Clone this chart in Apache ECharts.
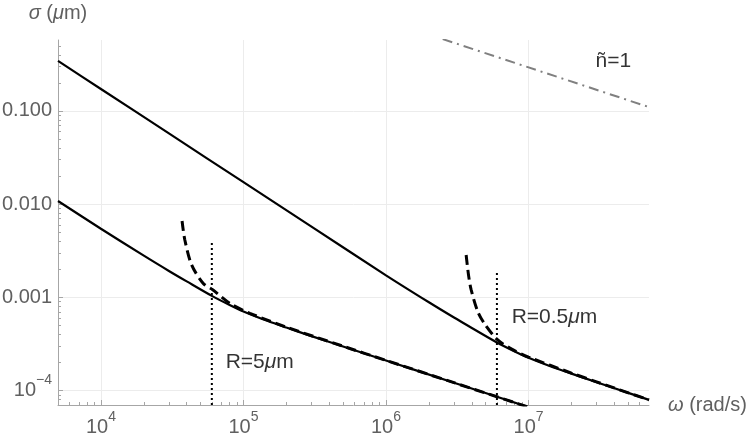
<!DOCTYPE html>
<html><head><meta charset="utf-8">
<script src="https://cdn.jsdelivr.net/npm/echarts@6/dist/echarts.min.js"></script>
<style>html,body{margin:0;padding:0;background:#fff}#c{width:750px;height:444px}</style>
</head><body><div id="c"></div>
<script>
// ---- axis ticks ----
const xMajorTicks = [1e4, 1e5, 1e6, 1e7];
const xMajorLabels = ['10^4', '10^5', '10^6', '10^7'];
const xMinorTicks = [6e3, 7e3, 8e3, 9e3, 2e4, 3e4, 4e4, 5e4, 6e4, 7e4, 8e4, 9e4,
  2e5, 3e5, 4e5, 5e5, 6e5, 7e5, 8e5, 9e5, 2e6, 3e6, 4e6, 5e6, 6e6, 7e6, 8e6, 9e6,
  2e7, 3e7, 4e7, 5e7, 6e7];
const yMajorTicks = [1e-4, 1e-3, 1e-2, 1e-1];
const yMajorLabels = ['10^−4', '0.001', '0.010', '0.100'];
const yMinorTicks = [8e-5, 9e-5, 2e-4, 3e-4, 4e-4, 5e-4, 6e-4, 7e-4, 8e-4, 9e-4,
  2e-3, 3e-3, 4e-3, 5e-3, 6e-3, 7e-3, 8e-3, 9e-3, 2e-2, 3e-2, 4e-2, 5e-2, 6e-2, 7e-2, 8e-2, 9e-2,
  0.2, 0.3, 0.4, 0.5];
const xRange = [5000, 7e7];
const yRange = [7e-5, 0.577];

// ---- series (omega [rad/s], sigma [um]) ----
const solidR05 = [[5000, 0.344], [1e4, 0.172], [3e4, 0.0574], [1e5, 0.0172], [3e5, 5.74e-3],
  [1e6, 1.723e-3], [2e6, 8.85e-4], [3e6, 6.07e-4], [4e6, 4.69e-4], [6e6, 3.28e-4], [8e6, 2.63e-4],
  [1e7, 2.25e-4], [1.5e7, 1.77e-4], [2e7, 1.52e-4], [3e7, 1.23e-4], [5e7, 9.45e-5], [7e7, 7.94e-5]];
const solidR5 = [[5000, 0.0108], [1e4, 5.45e-3], [2e4, 2.8e-3], [3e4, 1.92e-3], [4e4, 1.483e-3],
  [6e4, 1.038e-3], [8e4, 8.29e-4], [1e5, 7.06e-4], [1.5e5, 5.53e-4], [2e5, 4.74e-4], [3e5, 3.84e-4],
  [5e5, 2.97e-4], [1e6, 2.1e-4], [3e6, 1.213e-4], [1e7, 6.64e-5]];
const dashedR5 = [[3.71e4, 6.6e-3], [3.88e4, 4.13e-3], [4.33e4, 2.23e-3], [5.21e4, 1.42e-3],
  [6.12e4, 1.2e-3], [8.01e4, 8.64e-4], [1.11e5, 6.75e-4], [2e5, 4.8e-4], [5e5, 2.99e-4],
  [1e6, 2.11e-4], [3e6, 1.215e-4], [1e7, 6.64e-5]];
const dashedR05 = [[3.65e6, 2.85e-3], [3.8e6, 1.7e-3], [3.96e6, 1.2e-3], [4.41e6, 7.0e-4],
  [5.0e6, 5.0e-4], [6.08e6, 3.49e-4], [7.75e6, 2.75e-4], [1e7, 2.29e-4], [2e7, 1.54e-4],
  [3e7, 1.24e-4], [7e7, 7.94e-5]];
const dottedR5 = [[6e4, 7e-5], [6e4, 4.0e-3]];
const dottedR05 = [[6e6, 7e-5], [6e6, 1.87e-3]];
const lineN1 = [[2.5e6, 0.59], [7e7, 0.110]];
const annotations = [
  [3.94e7, 0.344, '{n|ñ=1}'],
  [1.3e5, 2.03e-4, '{n|R=5}{i|μ}{n|m}'],
  [1.52e7, 6.16e-4, '{n|R=0.5}{i|μ}{n|m}']
];

const FONT = "'Liberation Sans', Arial, Helvetica, sans-serif";
const GRAY = '#606060';
const AXIS = '#a6a6a6';

function supLabel(str) {
  const p = str.split('^');
  return p.length > 1 ? '{b|' + p[0] + '}{s|' + p[1] + '}' : '{b|' + p[0] + '}';
}
function findIdx(arr, v) {
  return arr.findIndex(t => Math.abs(t - v) / t < 1e-6);
}
const labelRich = {
  b: {fontSize: 20, lineHeight: 34, color: GRAY, fontFamily: FONT},
  s: {fontSize: 14, lineHeight: 10, verticalAlign: 'top', color: GRAY, fontFamily: FONT}
};

const chart = echarts.init(document.getElementById('c'), null, {renderer: 'canvas'});
const lineBase = {type: 'line', symbol: 'none', showSymbol: false, silent: true, animation: false, clip: true, xAxisIndex: 0, yAxisIndex: 0};

chart.setOption({
  animation: false,
  backgroundColor: '#fff',
  grid: {left: 58, top: 40, width: 591, height: 365, outerBoundsMode: 'none', containLabel: false},
  xAxis: [{
    type: 'log', logBase: 10, min: xRange[0], max: xRange[1], position: 'bottom',
    axisLine: {show: true, onZero: false, lineStyle: {color: AXIS, width: 1}},
    axisTick: {show: true, inside: true, length: 5, customValues: xMajorTicks, lineStyle: {color: AXIS}},
    axisLabel: {show: true, margin: 5, customValues: xMajorTicks,
      formatter: v => { const i = findIdx(xMajorTicks, v); return i < 0 ? '' : supLabel(xMajorLabels[i]); },
      rich: labelRich},
    splitLine: {show: true, lineStyle: {color: '#ececec', width: 1}},
    name: '{i|ω} (rad/s)', nameLocation: 'end', nameGap: 19,
    nameTextStyle: {fontSize: 20, color: GRAY, fontFamily: FONT, align: 'left', verticalAlign: 'middle',
      rich: {i: {fontSize: 20, fontStyle: 'italic', color: GRAY, fontFamily: FONT}}}
  }, {
    type: 'log', logBase: 10, min: xRange[0], max: xRange[1], position: 'bottom', gridIndex: 0,
    axisLine: {show: false, onZero: false},
    axisTick: {show: true, inside: true, length: 3, customValues: xMinorTicks, lineStyle: {color: AXIS}},
    axisLabel: {show: false}, splitLine: {show: false}
  }],
  yAxis: [{
    type: 'log', logBase: 10, min: yRange[0], max: yRange[1], position: 'left',
    axisLine: {show: true, onZero: false, lineStyle: {color: AXIS, width: 1}},
    axisTick: {show: true, inside: true, length: 5, customValues: yMajorTicks, lineStyle: {color: AXIS}},
    axisLabel: {show: true, margin: 6, customValues: yMajorTicks,
      formatter: v => { const i = findIdx(yMajorTicks, v); return i < 0 ? '' : supLabel(yMajorLabels[i]); },
      rich: labelRich},
    splitLine: {show: true, lineStyle: {color: '#ececec', width: 1}},
    name: '{i|σ} ({i|μ}m)', nameLocation: 'end', nameGap: 17,
    nameTextStyle: {fontSize: 20, color: GRAY, fontFamily: FONT, align: 'center', verticalAlign: 'bottom',
      rich: {i: {fontSize: 20, fontStyle: 'italic', color: GRAY, fontFamily: FONT}}}
  }, {
    type: 'log', logBase: 10, min: yRange[0], max: yRange[1], position: 'left', gridIndex: 0,
    axisLine: {show: false, onZero: false},
    axisTick: {show: true, inside: true, length: 3, customValues: yMinorTicks, lineStyle: {color: AXIS}},
    axisLabel: {show: false}, splitLine: {show: false}
  }],
  series: [
    Object.assign({}, lineBase, {data: lineN1, lineStyle: {color: '#808080', width: 2, type: [10, 5, 2, 5]}}),
    Object.assign({}, lineBase, {data: dottedR5, lineStyle: {color: '#000', width: 2, type: [2, 3]}}),
    Object.assign({}, lineBase, {data: dottedR05, lineStyle: {color: '#000', width: 2, type: [2, 3]}}),
    Object.assign({}, lineBase, {data: solidR05, smooth: 0.3, lineStyle: {color: '#000', width: 2.2}}),
    Object.assign({}, lineBase, {data: solidR5, smooth: 0.3, lineStyle: {color: '#000', width: 2.2}}),
    Object.assign({}, lineBase, {data: dashedR5, smooth: 0.3, lineStyle: {color: '#000', width: 3, type: [10, 5]}}),
    Object.assign({}, lineBase, {data: dashedR05, smooth: 0.3, lineStyle: {color: '#000', width: 3, type: [10, 5]}}),
    {
      type: 'scatter', silent: true, xAxisIndex: 0, yAxisIndex: 0, symbolSize: 1,
      itemStyle: {color: 'transparent'},
      data: annotations.map(a => ({value: [a[0], a[1]], label: {formatter: a[2]}})),
      label: {show: true, position: 'inside',
        rich: {
          n: {fontSize: 21, color: '#000', fontFamily: FONT},
          i: {fontSize: 21, color: '#000', fontStyle: 'italic', fontFamily: FONT}
        }}
    }
  ]
});
</script>
</body></html>
